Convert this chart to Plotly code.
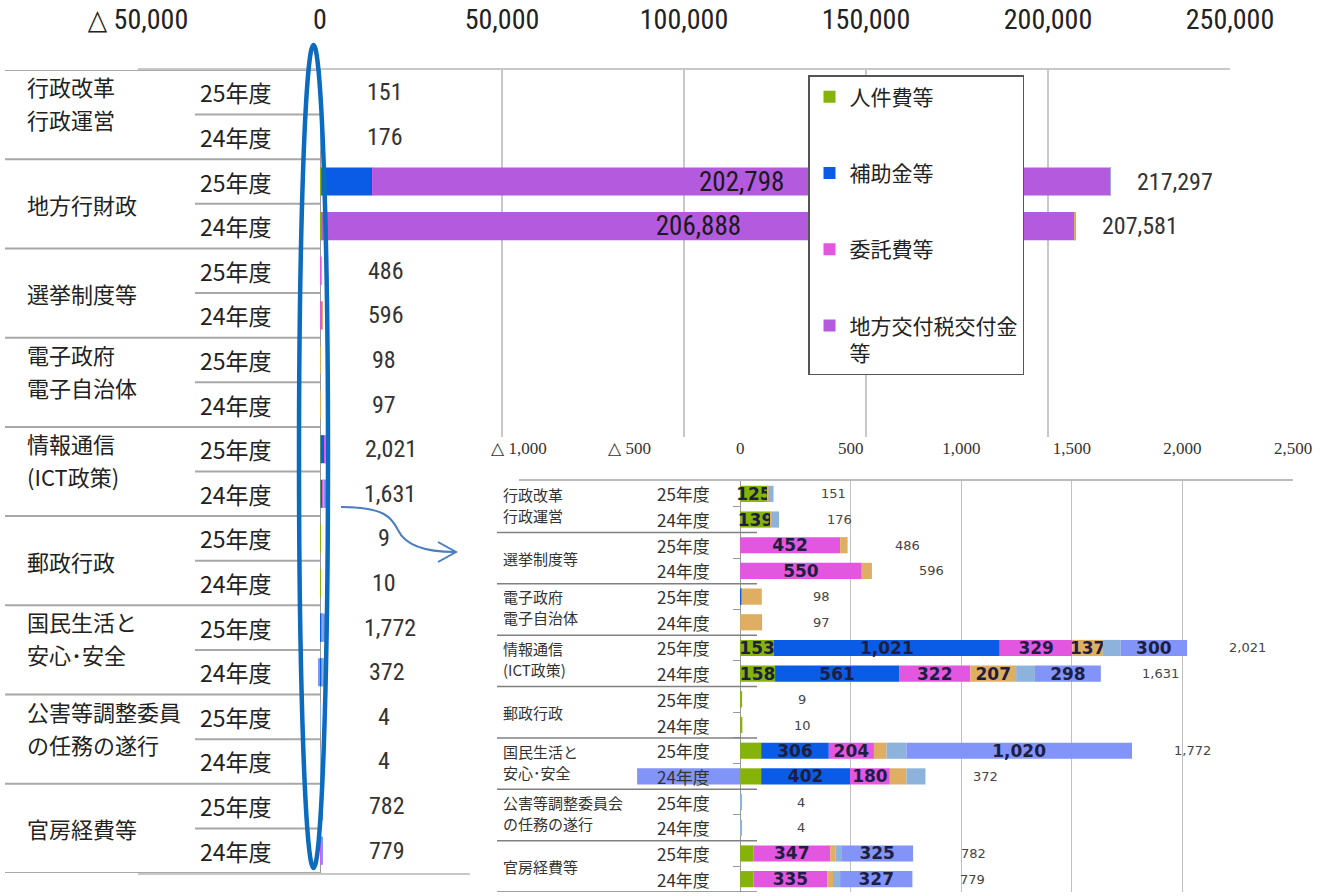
import plotly.graph_objects as go

W, H = 1334, 896

# ---------------- data ----------------
categories = ["行政改革<br>行政運営", "地方行財政", "選挙制度等", "電子政府<br>電子自治体",
              "情報通信<br>(ICT政策)", "郵政行政", "国民生活と<br>安心･安全",
              "公害等調整委員<br>の任務の遂行", "官房経費等"]
inset_categories = ["行政改革<br>行政運営", "選挙制度等", "電子政府<br>電子自治体",
                    "情報通信<br>(ICT政策)", "郵政行政", "国民生活と<br>安心･安全",
                    "公害等調整委員会<br>の任務の遂行", "官房経費等"]
inset_excluded = "地方行財政"
years = ["25年度", "24年度"]

# values per row: for each category -> [25年度, 24年度]  (百万円)
personnel   = [125, 139, 380, 390, 0, 0, 0, 0, 153, 158, 9, 10, 95, 95, 0, 0, 60, 60]
subsidies   = [0, 0, 14000, 0, 0, 0, 5, 0, 1021, 561, 0, 0, 306, 402, 0, 0, 0, 0]
outsourcing = [0, 0, 60, 120, 452, 550, 3, 0, 329, 322, 0, 0, 204, 180, 0, 0, 347, 335]
local_tax   = [0, 0, 202798, 206888, 0, 0, 0, 0, 0, 0, 0, 0, 0, 0, 0, 0, 0, 0]
facilities  = [4, 5, 29, 100, 34, 46, 90, 95, 137, 207, 0, 0, 57, 75, 0, 0, 25, 25]
other_a     = [22, 32, 30, 83, 0, 0, 0, 2, 81, 85, 0, 0, 90, 86, 4, 4, 25, 32]
other_b     = [0, 0, 0, 0, 0, 0, 0, 0, 300, 298, 0, 0, 1020, -466, 0, 0, 325, 327]

main_ticks = [-50000, 0, 50000, 100000, 150000, 200000, 250000]
inset_ticks = [-1000, -500, 0, 500, 1000, 1500, 2000, 2500]

# ---------------- styles ----------------
NARROW = "Liberation Sans Narrow, Arial Narrow, Roboto Condensed, DejaVu Sans Condensed, sans-serif"
JP = "Noto Sans CJK JP, sans-serif"
series = [
    ("人件費等", personnel, "#86b30a", True),
    ("補助金等", subsidies, "#0a5ce6", True),
    ("委託費等", outsourcing, "#e256e0", True),
    ("地方交付税交付金<br>等", local_tax, "#b35ade", True),
    ("施設費等", facilities, "#dfae62", False),
    ("その他経費", other_a, "#8db3dc", False),
    ("その他", other_b, "#8294f8", False),
]


def px(x):
    return x / W


def py(y):
    return 1 - y / H


def tick_text(v):
    return f"△ {abs(v):,}" if v < 0 else f"{v:,}"


n_rows = len(categories) * len(years)
rows = list(range(n_rows))
inset_idx = [i for i in rows if categories[i // len(years)] != inset_excluded]
inset_rows = list(range(len(inset_idx)))

pos_total = [sum(max(s[1][i], 0) for s in series) for i in rows]
total = [sum(s[1][i] for s in series) for i in rows]

fig = go.Figure()

# main chart traces
for name, vals, color, inleg in series:
    txt = [f"{v:,}" if v >= 100000 else "" for v in vals]
    fig.add_trace(go.Bar(
        x=vals, y=rows, orientation="h", name=name,
        marker=dict(color=color, line=dict(width=0)),
        text=txt, textposition="inside", insidetextanchor="middle",
        textangle=0, constraintext="none",
        textfont=dict(family=NARROW, size=27, color="#1a1a1a"),
        showlegend=inleg, legendgroup=name,
        xaxis="x", yaxis="y", hoverinfo="x+name",
    ))

# cover subplot for inset background
fig.add_trace(go.Scatter(x=[None], y=[None], xaxis="x2", yaxis="y2",
                         showlegend=False, hoverinfo="skip"))

# inset traces
for name, vals, color, inleg in series:
    iv = [vals[i] for i in inset_idx]
    txt = [f"{v:,}" if v >= 100 else "" for v in iv]
    fig.add_trace(go.Bar(
        x=iv, y=inset_rows, orientation="h", name=name,
        marker=dict(color=color, line=dict(width=0)),
        text=txt, textposition="inside", insidetextanchor="middle",
        textangle=0, constraintext="none",
        textfont=dict(family="DejaVu Sans", size=17, color="#1e1e40", weight="bold"),
        showlegend=False, legendgroup=name,
        xaxis="x3", yaxis="y3", hoverinfo="x+name",
    ))

annotations = []


def add_label_lines(text, xpix, ycenter, yref, size, spacing, lift, color):
    lines = text.split("<br>")
    n = len(lines)
    for k, line in enumerate(lines):
        shift = (lift if n > 1 else 0) + ((n - 1) / 2 - k) * spacing
        annotations.append(dict(
            x=px(xpix), xref="paper", y=ycenter, yref=yref, text=line,
            showarrow=False, xanchor="left", yanchor="middle", yshift=shift,
            font=dict(family=JP, size=size, color=color)))


# main table labels
for c, cat in enumerate(categories):
    add_label_lines(cat, 25, c * len(years) + 0.5, "y", 22, 33, 12, "#222")
for i in rows:
    annotations.append(dict(
        x=px(198), xref="paper", y=i, yref="y", text=years[i % len(years)],
        showarrow=False, xanchor="left", yanchor="middle",
        font=dict(family=JP, size=23, color="#222")))
    annotations.append(dict(
        x=pos_total[i], xref="x", y=i, yref="y", text=f"{total[i]:,}",
        showarrow=False, xanchor="center", yanchor="middle", xshift=64,
        font=dict(family=NARROW, size=24, color="#333")))

# inset table labels
for c, cat in enumerate(inset_categories):
    add_label_lines(cat, 501, c * len(years) + 0.5, "y3", 15, 21, 2, "#333")
for j, i in enumerate(inset_idx):
    annotations.append(dict(
        x=px(655), xref="paper", y=j, yref="y3", text=years[i % len(years)],
        showarrow=False, xanchor="left", yanchor="middle",
        font=dict(family=JP, size=17, color="#333")))
    annotations.append(dict(
        x=pos_total[i], xref="x3", y=j, yref="y3", text=f"{total[i]:,}",
        showarrow=False, xanchor="center", yanchor="middle", xshift=60,
        font=dict(family="DejaVu Sans", size=13, color="#444")))

shapes = []
# covers for negative side (between grid and traces)
shapes.append(dict(type="rect", xref="x", yref="y", x0=main_ticks[0], x1=0,
                   y0=-0.5, y1=n_rows - 0.5, fillcolor="white",
                   line=dict(width=0), layer="between"))
shapes.append(dict(type="rect", xref="x3", yref="y3", x0=inset_ticks[0], x1=0,
                   y0=-0.5, y1=len(inset_rows) - 0.5, fillcolor="white",
                   line=dict(width=0), layer="between"))
# main table lines
for b in range(0, n_rows + 1, len(years)):
    shapes.append(dict(type="line", xref="paper", yref="y", x0=px(5), x1=px(320),
                       y0=b - 0.5, y1=b - 0.5, line=dict(color="#a8a8a8", width=2),
                       layer="above"))
for b in range(1, n_rows, len(years)):
    shapes.append(dict(type="line", xref="paper", yref="y", x0=px(195), x1=px(320),
                       y0=b - 0.5, y1=b - 0.5, line=dict(color="#a8a8a8", width=2),
                       layer="above"))
# inset table lines
for b in range(len(years), len(inset_rows) + 1, len(years)):
    shapes.append(dict(type="line", xref="paper", yref="y3", x0=px(497), x1=px(757),
                       y0=b - 0.5, y1=b - 0.5, line=dict(color="#808080", width=1.5),
                       layer="above"))
# blue ellipse
shapes.append(dict(type="circle", xref="paper", yref="paper",
                   x0=px(299), x1=px(328), y0=py(868), y1=py(45),
                   line=dict(color="#0b6bbf", width=4.5), layer="above"))
# arrow
shapes.append(dict(type="path", xref="paper", yref="paper",
                   path=(f"M {px(341)},{py(507)} C {px(385)},{py(507)} {px(392)},{py(518)} "
                         f"{px(398)},{py(530)} C {px(405)},{py(545)} {px(425)},{py(552)} "
                         f"{px(455)},{py(552)}"),
                   line=dict(color="#4a7ebf", width=2), layer="above"))
shapes.append(dict(type="path", xref="paper", yref="paper",
                   path=f"M {px(438)},{py(542)} L {px(456)},{py(552)} L {px(438)},{py(562)}",
                   line=dict(color="#4a7ebf", width=2), layer="above"))

x3_dom = [px(519), px(1293)]
yaxis3_pos = x3_dom[0] + (0 - inset_ticks[0]) / (inset_ticks[-1] - inset_ticks[0]) * (x3_dom[1] - x3_dom[0])

fig.update_layout(
    width=W, height=H, margin=dict(l=0, r=0, t=0, b=0, pad=0, autoexpand=False),
    paper_bgcolor="white", plot_bgcolor="white",
    barmode="relative", bargap=0.37,
    font=dict(family=JP),
    xaxis=dict(domain=[px(138), px(1230)], range=[main_ticks[0], main_ticks[-1]],
               side="top", tickvals=main_ticks, ticktext=[tick_text(v) for v in main_ticks],
               tickfont=dict(family=NARROW, size=28, color="#222"),
               showgrid=True, gridcolor="#c8c8c8", gridwidth=1.5,
               zeroline=True, zerolinecolor="#9a9a9a", zerolinewidth=2,
               showline=True, linecolor="#c8c8c8", linewidth=1.5, mirror=True,
               ticks="", ticklabelstandoff=28, anchor="y", automargin=False),
    yaxis=dict(domain=[py(873), py(70)], range=[n_rows - 0.5, -0.5],
               visible=False, anchor="x", automargin=False),
    xaxis2=dict(domain=[px(470), 1], range=[0, 1], visible=False, anchor="y2",
                automargin=False),
    yaxis2=dict(domain=[0, py(437)], range=[0, 1], visible=False, anchor="x2",
                automargin=False),
    xaxis3=dict(domain=x3_dom, range=[inset_ticks[0], inset_ticks[-1]],
                side="top", tickvals=inset_ticks, ticktext=[tick_text(v) for v in inset_ticks],
                tickfont=dict(family="Liberation Serif", size=17, color="#333"),
                showgrid=True, gridcolor="#c0c0c0", gridwidth=1,
                zeroline=True, zerolinecolor="#8a8a8a", zerolinewidth=1.5,
                showline=True, linecolor="#bbbbbb", linewidth=1.5,
                ticks="", ticklabelstandoff=18, anchor="y3", automargin=False),
    yaxis3=dict(domain=[py(892), py(481)], range=[len(inset_rows) - 0.5, -0.5],
                showticklabels=False, showgrid=False, zeroline=False, showline=False,
                ticks="outside", ticklen=7, tickcolor="#999",
                tickvals=[r + 0.5 for r in inset_rows[:-1]],
                anchor="free", position=yaxis3_pos, automargin=False),
    legend=dict(x=px(808), y=py(75), xanchor="left", yanchor="top",
                bgcolor="white", bordercolor="#555", borderwidth=1.5,
                font=dict(family=JP, size=21, color="#222"),
                traceorder="grouped", tracegroupgap=46, valign="top"),
    annotations=annotations, shapes=shapes,
)

fig.write_html("out.html", config={"displayModeBar": False},
               post_script="document.body.style.margin='0';document.body.style.overflow='hidden';")
